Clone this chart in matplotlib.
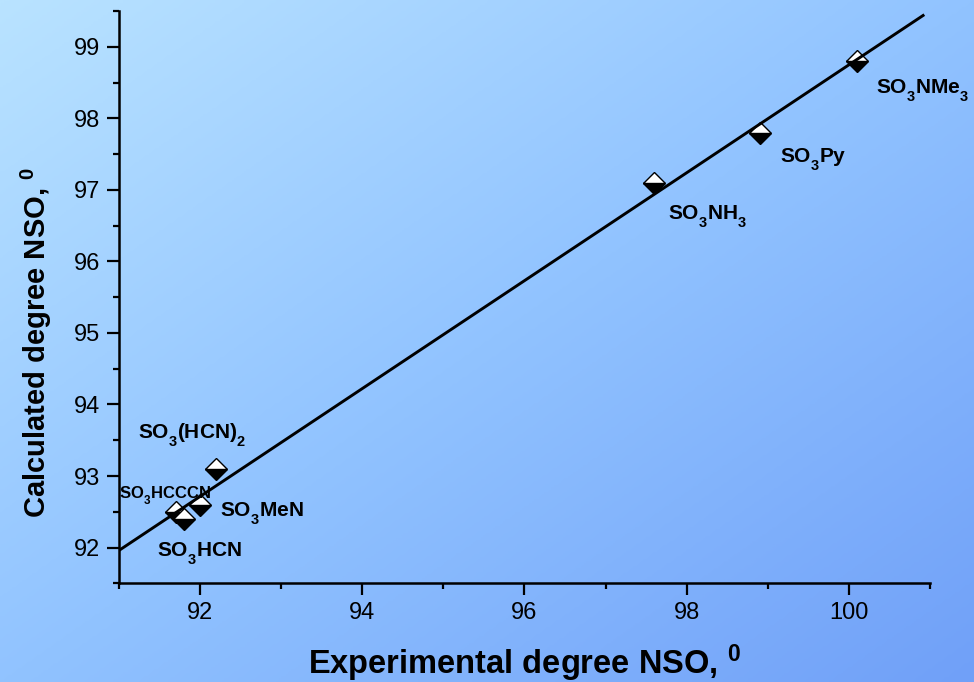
import numpy as np
import matplotlib
matplotlib.use("Agg")
import matplotlib.pyplot as plt
from matplotlib.colors import LinearSegmentedColormap
from matplotlib.ticker import MultipleLocator, FixedLocator

# ---- data -------------------------------------------------------------
compounds = ["SO_3NMe_3", "SO_3Py", "SO_3NH_3", "SO_3(HCN)_2",
             "SO_3HCCCN", "SO_3MeN", "SO_3HCN"]
experimental = [100.1, 98.9, 97.6, 92.2, 91.7, 92.0, 91.8]
calculated = [98.8, 97.8, 97.1, 93.1, 92.5, 92.6, 92.4]
fit_span = [91.0, 100.93]
x_ticks = [92, 94, 96, 98, 100]
y_ticks = [92, 93, 94, 95, 96, 97, 98, 99]

# ---- label layout (pixel offsets from each point, font size) ----------
label_offsets = [(19, -33), (20, -30), (14, -37), (-78, 30),
                 (-57, 14), (20, -12), (-27, -38)]
label_sizes = [15, 15, 15, 15, 12, 15, 15]

plt.rcParams["font.family"] = ["Liberation Sans", "DejaVu Sans"]
plt.rcParams["mathtext.fontset"] = "custom"
plt.rcParams["mathtext.rm"] = "Liberation Sans"
plt.rcParams["mathtext.bf"] = "Liberation Sans:bold"
plt.rcParams["mathtext.it"] = "Liberation Sans:italic"

# chemical-formula style: subscripts sit lower than the mathtext default
try:
    from matplotlib import _mathtext

    class _FormulaConstants(_mathtext.FontConstantsBase):
        sub1 = 0.75
        sub2 = 0.75

    _mathtext._font_constant_mapping["Liberation Sans"] = _FormulaConstants
except Exception:
    pass

fig = plt.figure(figsize=(9.74, 6.82), dpi=100)

# diagonal blue gradient behind everything
bg = fig.add_axes([0, 0, 1, 1], zorder=-10)
gx, gy = np.meshgrid(np.linspace(0, 1, 400), np.linspace(0, 1, 300))
grad = (gx + gy) / 2.0
cmap = LinearSegmentedColormap.from_list(
    "bg", [(185/255, 227/255, 255/255), (145/255, 195/255, 255/255),
           (112/255, 160/255, 248/255)])
bg.imshow(grad, cmap=cmap, aspect="auto", extent=[0, 1, 0, 1],
          origin="upper", interpolation="bilinear")
bg.axis("off")

ax = fig.add_axes([0.122, 0.1447, 0.8328, 0.8392])
ax.patch.set_alpha(0)

# linear fit of calculated vs experimental values
slope, intercept = np.polyfit(experimental, calculated, 1)
fx = np.array(fit_span)
ax.plot(fx, slope * fx + intercept, color="black", lw=2.1, zorder=4,
        solid_capstyle="butt")

ax.plot(experimental, calculated, ls="none", marker="D", ms=11.5,
        mfc="black", mfcalt="white", fillstyle="bottom",
        mec="black", mew=1.0, zorder=3)

for name, xv, yv, (dx, dy), fs in zip(compounds, experimental, calculated,
                                      label_offsets, label_sizes):
    ax.annotate(r"$\mathbf{" + name + "}$", (xv, yv), xytext=(dx, dy),
                textcoords="offset pixels", ha="left", va="baseline",
                fontsize=fs, zorder=5, annotation_clip=False)

ax.set_xlim(91, 101)
ax.set_ylim(91.5, 99.5)
ax.xaxis.set_major_locator(FixedLocator(x_ticks))
ax.yaxis.set_major_locator(FixedLocator(y_ticks))
ax.xaxis.set_minor_locator(MultipleLocator(1))
ax.yaxis.set_minor_locator(MultipleLocator(0.5))

for side in ("top", "right"):
    ax.spines[side].set_visible(False)
for side in ("left", "bottom"):
    ax.spines[side].set_linewidth(1.8)

ax.tick_params(which="major", direction="out", length=8.5, width=1.6,
               labelsize=17, pad=5, colors="black")
ax.tick_params(which="minor", direction="out", length=4.5, width=1.6)

ax.set_xlabel(r"Experimental degree NSO, $^{\mathbf{0}}$",
              fontsize=23.5, fontweight="bold", va="baseline")
ax.xaxis.set_label_coords(0.5, -0.1585)
ax.set_ylabel(r"Calculated degree NSO, $^{\mathbf{0}}$",
              fontsize=21, fontweight="bold", va="baseline")
ax.yaxis.set_label_coords(-0.0903, 0.421)

fig.savefig("out.png", dpi=100)
